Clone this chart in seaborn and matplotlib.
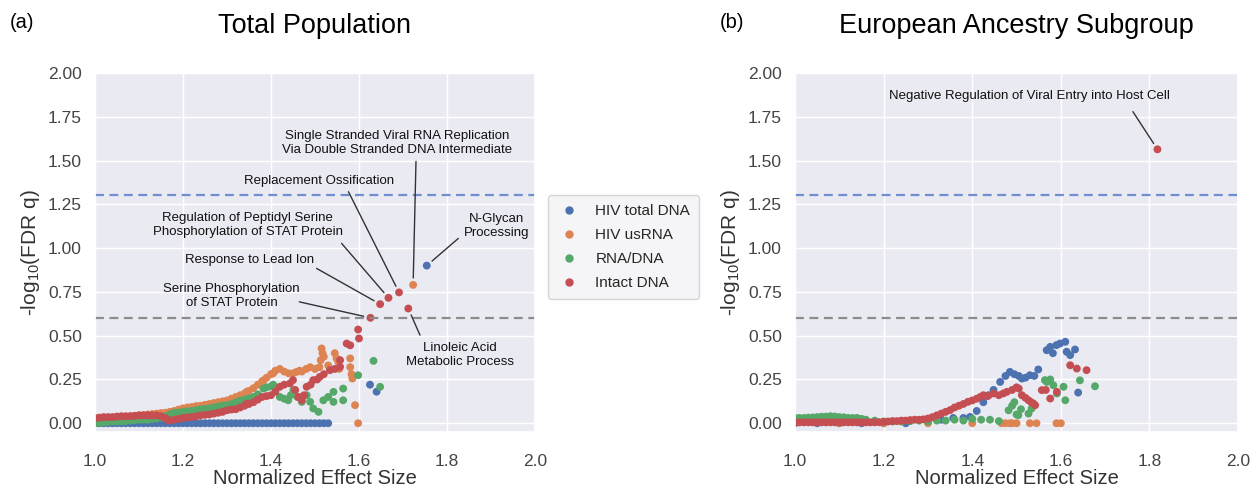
import matplotlib
matplotlib.use("Agg")
import matplotlib.pyplot as plt
from matplotlib.lines import Line2D
import pandas as pd
import seaborn as sns

series_names = ["HIV total DNA", "HIV usRNA", "RNA/DNA", "Intact DNA"]

# ---- (a) Total Population ----
a_blue_x = [1.00, 1.01, 1.02, 1.03, 1.04, 1.05, 1.06, 1.07, 1.08, 1.09, 1.10, 1.11, 1.12, 1.13,
            1.14, 1.15, 1.16, 1.17, 1.18, 1.19, 1.20, 1.21, 1.22, 1.23, 1.24, 1.25, 1.26, 1.27,
            1.28, 1.29, 1.30, 1.31, 1.32, 1.33, 1.34, 1.35, 1.36, 1.37, 1.38, 1.39, 1.40, 1.41,
            1.42, 1.43, 1.44, 1.45, 1.46, 1.47, 1.48, 1.49, 1.50, 1.51, 1.52, 1.53,
            1.625, 1.64, 1.754]
a_blue_y = [0.0, 0.0, 0.0, 0.0, 0.0, 0.0, 0.0, 0.0, 0.0, 0.0, 0.0, 0.0, 0.0, 0.0,
            0.0, 0.0, 0.0, 0.0, 0.0, 0.0, 0.0, 0.0, 0.0, 0.0, 0.0, 0.0, 0.0, 0.0,
            0.0, 0.0, 0.0, 0.0, 0.0, 0.0, 0.0, 0.0, 0.0, 0.0, 0.0, 0.0, 0.0, 0.0,
            0.0, 0.0, 0.0, 0.0, 0.0, 0.0, 0.0, 0.0, 0.0, 0.0, 0.0, 0.0,
            0.22, 0.18, 0.90]

a_orange_x = [1.00, 1.01, 1.02, 1.03, 1.04, 1.05, 1.06, 1.07, 1.08, 1.09, 1.10, 1.11, 1.12, 1.13,
              1.14, 1.15, 1.16, 1.17, 1.18, 1.19, 1.20, 1.21, 1.22, 1.23, 1.24, 1.25, 1.26, 1.27,
              1.28, 1.29, 1.30, 1.31, 1.32, 1.33, 1.34, 1.345, 1.35, 1.36, 1.37, 1.38, 1.383, 1.39,
              1.40, 1.405, 1.41, 1.42, 1.43, 1.44, 1.45, 1.458, 1.465, 1.47, 1.48, 1.489, 1.50,
              1.51, 1.513, 1.515, 1.517, 1.52, 1.53, 1.545, 1.549, 1.553, 1.555, 1.58, 1.58,
              1.583, 1.585, 1.591, 1.598, 1.723]
a_orange_y = [0.02, 0.022, 0.025, 0.028, 0.03, 0.032, 0.035, 0.037, 0.04, 0.042, 0.045, 0.047, 0.05, 0.052,
              0.055, 0.058, 0.06, 0.065, 0.07, 0.078, 0.085, 0.09, 0.093, 0.098, 0.10, 0.105, 0.11, 0.115,
              0.12, 0.125, 0.13, 0.14, 0.15, 0.16, 0.17, 0.18, 0.185, 0.20, 0.22, 0.24, 0.245, 0.26,
              0.28, 0.285, 0.30, 0.31, 0.295, 0.285, 0.285, 0.293, 0.30, 0.295, 0.31, 0.32, 0.31,
              0.32, 0.36, 0.427, 0.40, 0.38, 0.33, 0.40, 0.37, 0.35, 0.31, 0.37, 0.32,
              0.28, 0.255, 0.103, 0.0, 0.79]

a_green_x = [1.00, 1.01, 1.02, 1.03, 1.04, 1.05, 1.06, 1.07, 1.08, 1.09, 1.10, 1.11, 1.12, 1.13,
             1.14, 1.15, 1.16, 1.17, 1.18, 1.19, 1.20, 1.21, 1.22, 1.23, 1.24, 1.25, 1.26, 1.27,
             1.28, 1.29, 1.30, 1.31, 1.32, 1.33, 1.34, 1.35, 1.36, 1.37, 1.383, 1.39, 1.40, 1.405,
             1.41, 1.42, 1.43, 1.439, 1.445, 1.451, 1.46, 1.47, 1.481, 1.489, 1.496, 1.508,
             1.519, 1.53, 1.542, 1.542, 1.564, 1.564, 1.598, 1.633, 1.648]
a_green_y = [0.0, 0.002, 0.005, 0.007, 0.01, 0.01, 0.01, 0.012, 0.015, 0.017, 0.02, 0.02, 0.02, 0.024,
             0.027, 0.033, 0.04, 0.05, 0.06, 0.062, 0.065, 0.068, 0.07, 0.075, 0.08, 0.082, 0.085, 0.09,
             0.095, 0.10, 0.103, 0.11, 0.12, 0.128, 0.135, 0.142, 0.15, 0.165, 0.198, 0.205, 0.21, 0.22,
             0.20, 0.15, 0.14, 0.131, 0.16, 0.189, 0.15, 0.122, 0.16, 0.122, 0.084, 0.065,
             0.131, 0.15, 0.179, 0.122, 0.198, 0.131, 0.274, 0.356, 0.208]

a_red_x = [1.00, 1.01, 1.02, 1.03, 1.04, 1.05, 1.06, 1.07, 1.08, 1.09, 1.10, 1.11, 1.12, 1.13,
           1.14, 1.15, 1.16, 1.165, 1.17, 1.18, 1.19, 1.20, 1.21, 1.22, 1.23, 1.24, 1.25, 1.26,
           1.27, 1.28, 1.29, 1.30, 1.31, 1.32, 1.33, 1.34, 1.345, 1.35, 1.36, 1.37, 1.38, 1.39,
           1.40, 1.41, 1.42, 1.43, 1.443, 1.45, 1.455, 1.462, 1.47, 1.475, 1.481, 1.49, 1.496,
           1.505, 1.511, 1.52, 1.534, 1.545, 1.557, 1.557, 1.572, 1.58, 1.598, 1.60,
           1.626, 1.648, 1.667, 1.691, 1.712]
a_red_y = [0.03, 0.032, 0.035, 0.035, 0.035, 0.038, 0.04, 0.04, 0.04, 0.042, 0.045, 0.045, 0.045, 0.045,
           0.045, 0.04, 0.03, 0.02, 0.015, 0.02, 0.025, 0.03, 0.033, 0.035, 0.04, 0.045, 0.048, 0.05,
           0.055, 0.06, 0.065, 0.074, 0.078, 0.08, 0.09, 0.10, 0.112, 0.11, 0.12, 0.135, 0.15, 0.155,
           0.16, 0.18, 0.208, 0.22, 0.227, 0.246, 0.19, 0.15, 0.131, 0.16, 0.208, 0.22, 0.246,
           0.25, 0.265, 0.28, 0.303, 0.31, 0.322, 0.36, 0.455, 0.445, 0.535, 0.484,
           0.602, 0.68, 0.716, 0.747, 0.655]

# ---- (b) European Ancestry Subgroup ----
b_blue_x = [1.00, 1.05, 1.10, 1.15, 1.20, 1.25, 1.30, 1.33, 1.357, 1.38, 1.395, 1.41, 1.425,
            1.437, 1.448, 1.463, 1.475, 1.485, 1.495, 1.505, 1.512, 1.52, 1.53, 1.54, 1.549,
            1.568, 1.576, 1.582, 1.59, 1.598, 1.61, 1.613, 1.621, 1.632, 1.639]
b_blue_y = [0.0, 0.0, 0.0, 0.0, 0.0, 0.0, 0.01, 0.02, 0.03, 0.03, 0.036, 0.07, 0.12,
            0.16, 0.19, 0.236, 0.27, 0.293, 0.28, 0.27, 0.255, 0.26, 0.274, 0.27, 0.307,
            0.417, 0.436, 0.40, 0.446, 0.455, 0.465, 0.408, 0.389, 0.421, 0.175]

b_orange_x = [1.10, 1.20, 1.30, 1.40, 1.466, 1.475, 1.485, 1.49, 1.50, 1.53, 1.545, 1.59, 1.60]
b_orange_y = [0.0, 0.0, 0.0, 0.0, 0.0, 0.0, 0.0, 0.0, 0.0, 0.0, 0.0, 0.0, 0.0]

b_green_x = [1.00, 1.01, 1.02, 1.03, 1.04, 1.05, 1.06, 1.07, 1.08, 1.09, 1.10, 1.11, 1.12, 1.13,
             1.14, 1.15, 1.16, 1.18, 1.20, 1.22, 1.24, 1.26, 1.28, 1.30, 1.32, 1.34, 1.36, 1.38,
             1.40, 1.42, 1.44, 1.46, 1.482, 1.49, 1.495, 1.50, 1.504, 1.51, 1.527, 1.534,
             1.564, 1.568, 1.576, 1.583, 1.591, 1.606, 1.61, 1.643, 1.677]
b_green_y = [0.03, 0.03, 0.03, 0.032, 0.033, 0.035, 0.037, 0.038, 0.04, 0.038, 0.035, 0.034, 0.03, 0.03,
             0.03, 0.025, 0.02, 0.015, 0.01, 0.01, 0.01, 0.012, 0.015, 0.01, 0.015, 0.015, 0.02, 0.015,
             0.025, 0.02, 0.02, 0.012, 0.074, 0.10, 0.12, 0.05, 0.046, 0.08, 0.055, 0.084,
             0.246, 0.236, 0.25, 0.217, 0.17, 0.208, 0.131, 0.245, 0.211]

b_red_x = [1.00, 1.01, 1.02, 1.03, 1.04, 1.05, 1.06, 1.07, 1.08, 1.09, 1.10, 1.11, 1.12, 1.13,
           1.14, 1.15, 1.16, 1.17, 1.18, 1.19, 1.20, 1.21, 1.22, 1.23, 1.24, 1.25, 1.26, 1.27,
           1.28, 1.29, 1.30, 1.31, 1.32, 1.33, 1.34, 1.35, 1.36, 1.37, 1.38, 1.39, 1.40, 1.41,
           1.418, 1.425, 1.435, 1.448, 1.46, 1.47, 1.478, 1.49, 1.50, 1.505, 1.512, 1.52, 1.527,
           1.533, 1.538, 1.542, 1.557, 1.566, 1.576, 1.591, 1.621, 1.636, 1.658, 1.818]
b_red_y = [0.005, 0.005, 0.005, 0.005, 0.005, 0.005, 0.005, 0.005, 0.005, 0.005, 0.005, 0.005, 0.005, 0.005,
           0.005, 0.005, 0.005, 0.005, 0.005, 0.006, 0.008, 0.01, 0.012, 0.012, 0.015, 0.015, 0.018, 0.02,
           0.02, 0.022, 0.027, 0.035, 0.045, 0.055, 0.065, 0.075, 0.09, 0.10, 0.11, 0.122, 0.13, 0.14,
           0.15, 0.16, 0.155, 0.17, 0.16, 0.17, 0.179, 0.19, 0.205, 0.198, 0.16, 0.145, 0.131,
           0.12, 0.112, 0.103, 0.189, 0.19, 0.141, 0.179, 0.331, 0.312, 0.303, 1.564]

fdr_05 = 1.301   # -log10(0.05)
fdr_25 = 0.602   # -log10(0.25)

# labels: text, text position, line start, point
a_labels = [
    ("Single Stranded Viral RNA Replication\nVia Double Stranded DNA Intermediate",
     (1.6875, 1.598), (1.7295, 1.495), (1.723, 0.79)),
    ("Replacement Ossification", (1.509, 1.385), (1.576, 1.322), (1.691, 0.747)),
    ("Regulation of Peptidyl Serine\nPhosphorylation of STAT Protein",
     (1.3466, 1.131), (1.5604, 1.027), (1.667, 0.716)),
    ("Response to Lead Ion", (1.3504, 0.931), (1.5036, 0.884), (1.648, 0.68)),
    ("Serine Phosphorylation\nof STAT Protein", (1.3105, 0.725), (1.4643, 0.693), (1.626, 0.602)),
    ("N-Glycan\nProcessing", (1.9127, 1.1245), (1.8257, 1.0552), (1.754, 0.90)),
    ("Linoleic Acid\nMetabolic Process", (1.8295, 0.389), (1.7386, 0.503), (1.712, 0.655)),
]
b_labels = [
    ("Negative Regulation of Viral Entry into Host Cell",
     (1.530, 1.869), (1.7626, 1.779), (1.818, 1.564)),
]


def make_frame(blue, orange, green, red):
    parts = []
    for name, (xs, ys) in zip(series_names, [blue, orange, green, red]):
        parts.append(pd.DataFrame({"effect": xs, "q": ys, "series": name}))
    return pd.concat(parts, ignore_index=True)


def draw_panel(ax, df, labels, title):
    sns.scatterplot(data=df, x="effect", y="q", hue="series", hue_order=series_names,
                    palette=colors, s=32, linewidth=0, legend=False, ax=ax)
    ax.axhline(fdr_05, color="#6f8fd0", ls=(0, (4, 2.5)), lw=1.6)
    ax.axhline(fdr_25, color="#8c8c8c", ls=(0, (4, 2.5)), lw=1.6)
    ax.set_xlim(1.0, 2.0)
    ax.set_ylim(-0.05, 2.0)
    ax.set_xticks([1.0, 1.2, 1.4, 1.6, 1.8, 2.0])
    ax.set_xticklabels(["1.0", "1.2", "1.4", "1.6", "1.8", "2.0"])
    ax.set_yticks([0, 0.25, 0.5, 0.75, 1.0, 1.25, 1.5, 1.75, 2.0])
    ax.set_yticklabels(["0.00", "0.25", "0.50", "0.75", "1.00", "1.25", "1.50", "1.75", "2.00"])
    ax.tick_params(labelsize=12.5, labelcolor="#444444")
    ax.tick_params(axis="x", pad=10)
    ax.set_xlabel("Normalized Effect Size", fontsize=14.5, color="#333333", labelpad=0)
    ax.set_ylabel("-log$_{10}$(FDR q)", fontsize=15, color="#333333")
    ax.set_title(title, fontsize=19.5, pad=29, color="black")
    for text, tpos, start, pt in labels:
        ax.text(tpos[0], tpos[1], text, ha="center", va="center", fontsize=9.5,
                color="#111111", linespacing=1.25)
        ax.annotate("", xy=pt, xytext=start,
                    arrowprops=dict(arrowstyle="-", color="#333333", lw=1.0,
                                    shrinkA=0, shrinkB=5))


sns.set_theme(style="darkgrid")
plt.rcParams["font.family"] = ["Liberation Sans", "DejaVu Sans"]
plt.rcParams["mathtext.default"] = "regular"
colors = sns.color_palette("deep", 4)

fig = plt.figure(figsize=(12.6, 4.9), dpi=100)
ax1 = fig.add_axes([0.0754, 0.1184, 0.3492, 0.7327])
ax2 = fig.add_axes([0.6310, 0.1184, 0.3516, 0.7327])

df_a = make_frame((a_blue_x, a_blue_y), (a_orange_x, a_orange_y),
                  (a_green_x, a_green_y), (a_red_x, a_red_y))
df_b = make_frame((b_blue_x, b_blue_y), (b_orange_x, b_orange_y),
                  (b_green_x, b_green_y), (b_red_x, b_red_y))

draw_panel(ax1, df_a, a_labels, "Total Population")
draw_panel(ax2, df_b, b_labels, "European Ancestry Subgroup")

fig.text(0.008, 0.955, "(a)", fontsize=14.5, va="center", color="black")
fig.text(0.571, 0.955, "(b)", fontsize=14.5, va="center", color="black")

handles = [Line2D([], [], ls="", marker="o", markersize=5, color=c) for c in colors]
fig.legend(handles, series_names, loc="upper left", bbox_to_anchor=(0.435, 0.602),
           borderaxespad=0, fontsize=11, frameon=True, facecolor="#f3f3f5",
           edgecolor="#cccccc", labelspacing=0.65, handlelength=1.6,
           handletextpad=0.9, borderpad=0.6)

fig.savefig("out.png", dpi=100)
